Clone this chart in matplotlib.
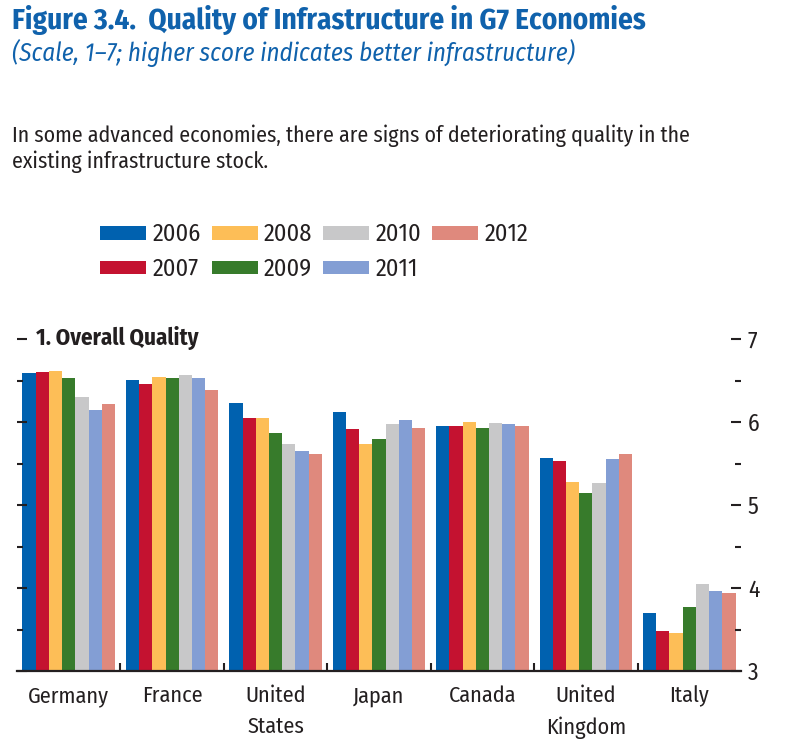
import matplotlib
matplotlib.use("Agg")
import matplotlib.pyplot as plt
from matplotlib.patches import Patch
import numpy as np

# ---------------- data ----------------
countries = ["Germany", "France", "United\nStates", "Japan", "Canada", "United\nKingdom", "Italy"]
years = ["2006", "2007", "2008", "2009", "2010", "2011", "2012"]
v2006 = [6.59, 6.51, 6.23, 6.12, 5.95, 5.57, 3.70]
v2007 = [6.60, 6.46, 6.05, 5.92, 5.95, 5.53, 3.48]
v2008 = [6.62, 6.54, 6.05, 5.73, 6.00, 5.28, 3.46]
v2009 = [6.53, 6.53, 5.87, 5.80, 5.93, 5.15, 3.77]
v2010 = [6.30, 6.57, 5.74, 5.97, 5.99, 5.26, 4.05]
v2011 = [6.15, 6.53, 5.65, 6.03, 5.98, 5.55, 3.96]
v2012 = [6.22, 6.39, 5.61, 5.93, 5.95, 5.62, 3.94]
series = [v2006, v2007, v2008, v2009, v2010, v2011, v2012]
colors = ["#0061AF", "#C41230", "#FDBE57", "#377B2B", "#C8C8C9", "#839ED4", "#DF897D"]
yticks = [3, 4, 5, 6, 7]

plt.rcParams["font.family"] = ["Fira Sans Condensed", "Archivo Narrow", "Liberation Sans", "DejaVu Sans"]

W, H = 789, 755
fig = plt.figure(figsize=(W / 100, H / 100), dpi=100)

dark = "#231F20"
blue = "#1062AC"

def fy(py):
    return 1 - py / H

fig.text(12 / W, fy(29), "Figure 3.4.  Quality of Infrastructure in G7 Economies",
         fontsize=21, fontweight="bold", color=blue, va="baseline", ha="left")
fig.text(12 / W, fy(61), "(Scale, 1\u20137; higher score indicates better infrastructure)",
         fontsize=18, fontstyle="italic", color=blue, va="baseline", ha="left")
fig.text(12 / W, fy(142), "In some advanced economies, there are signs of deteriorating quality in the",
         fontsize=15.7, color=dark, va="baseline", ha="left")
fig.text(12 / W, fy(168), "existing infrastructure stock.",
         fontsize=15.7, color=dark, va="baseline", ha="left")

# ---------------- axes ----------------
ax = fig.add_axes([17 / W, 1 - 671 / H, 724 / W, (671 - 339) / H])
n = len(countries)
x = np.arange(n)
bw = 0.1277
for j, (vals, c, yr) in enumerate(zip(series, colors, years)):
    ax.bar(x + (j - 3) * bw, np.array(vals) - 3, bottom=3, width=bw, color=c,
           linewidth=0, label=yr)

ax.set_xlim(-0.5, n - 0.5)
ax.set_ylim(3, 7)
for s in ["left", "top", "right"]:
    ax.spines[s].set_visible(False)
ax.spines["bottom"].set_linewidth(1.6)
ax.spines["bottom"].set_color(dark)

ax.set_yticks(yticks)
ax.set_yticks(np.arange(3.5, 7, 1.0), minor=True)
ax.tick_params(axis="y", which="both", left=True, right=True, labelleft=False,
               labelright=True, direction="in", color=dark, width=1.5)
ax.tick_params(axis="y", which="major", length=7.5, pad=5, labelsize=17, labelcolor=dark)
ax.tick_params(axis="y", which="minor", length=4.5)

ax.set_xticks(x)
ax.set_xticklabels(countries, fontsize=16, color=dark, linespacing=1.55, va="top")
ax.set_xticks(np.arange(0.5, n - 1, 1.0), minor=True)
ax.tick_params(axis="x", which="major", length=0, pad=10.5)
ax.tick_params(axis="x", which="minor", length=6, width=1.5, direction="in", color=dark)

fig.text(36 / W, fy(345), "1. Overall Quality", fontsize=16.5, fontweight="bold",
         color=dark, va="baseline", ha="left")

handles = [Patch(facecolor=c, edgecolor="none", label=yr) for c, yr in zip(colors, years)]
leg = fig.legend(handles=handles, ncol=4, loc="upper left",
                 bbox_to_anchor=(100 / W, fy(223)), frameon=False, fontsize=17.5,
                 handlelength=1.9, handleheight=0.5, handletextpad=0.25,
                 columnspacing=0.45, labelspacing=0.48, borderpad=0, borderaxespad=0)
for t in leg.get_texts():
    t.set_color(dark)

fig.savefig("out.png", dpi=100)
